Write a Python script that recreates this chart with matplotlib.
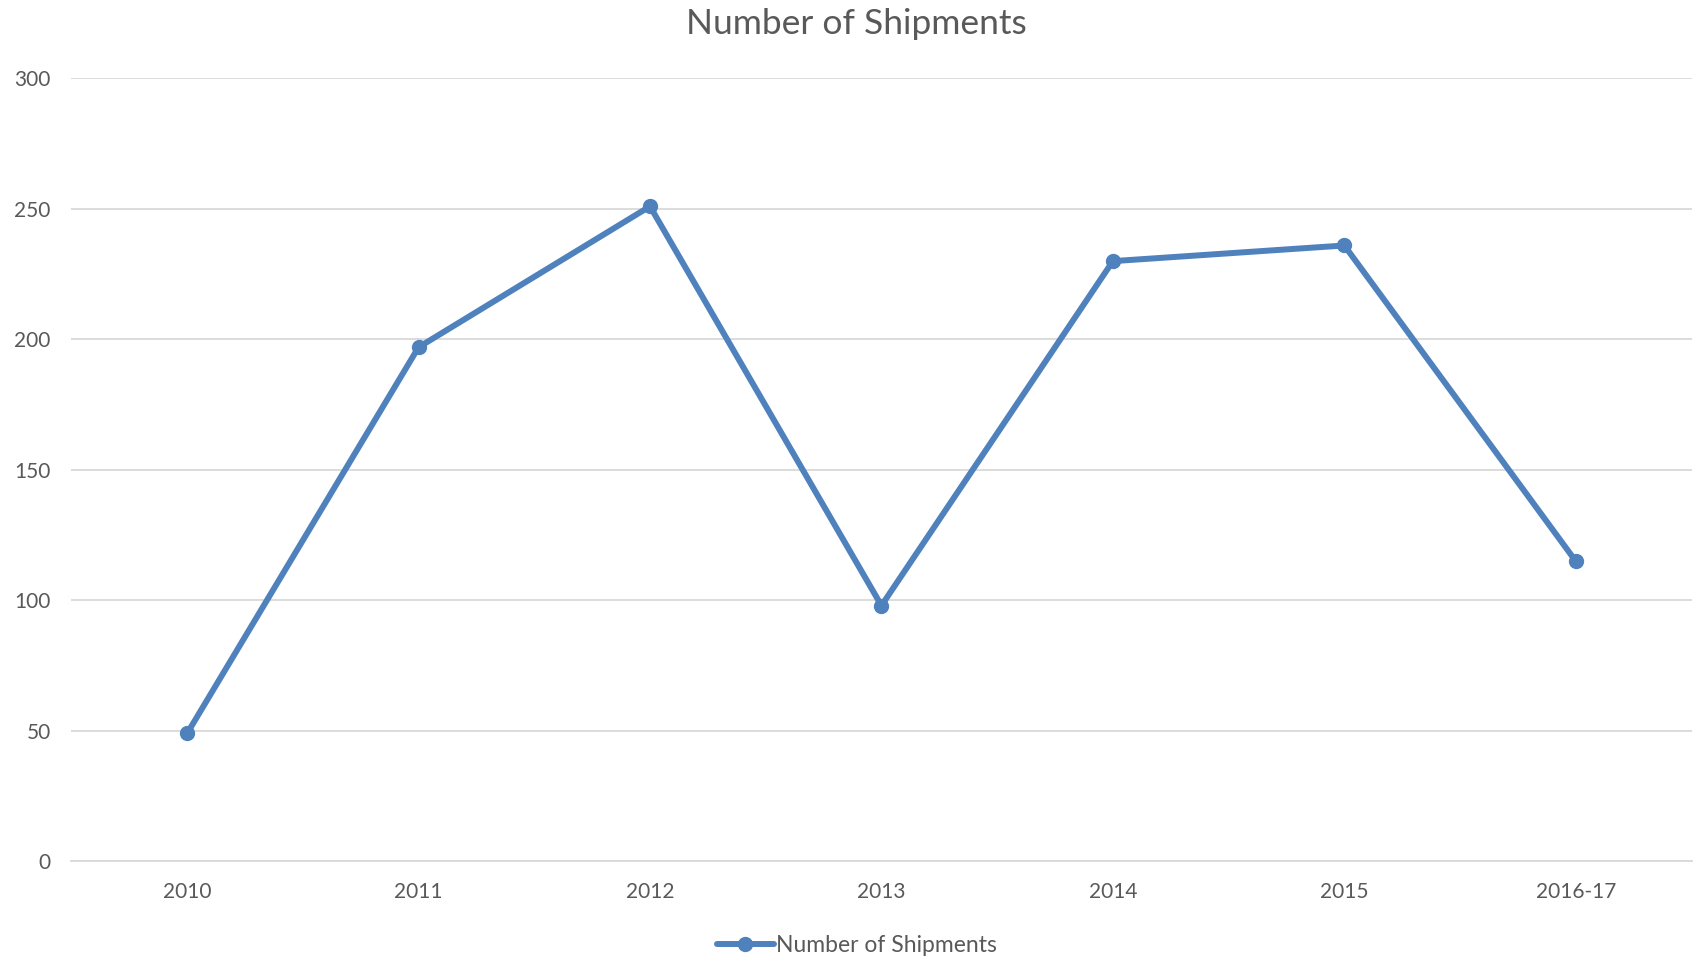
import matplotlib.pyplot as plt

years = ["2010", "2011", "2012", "2013", "2014", "2015", "2016-17"]
shipments = [49, 197, 251, 98, 230, 236, 115]
y_ticks = [0, 50, 100, 150, 200, 250, 300]

plt.rcParams["font.family"] = ["Lato", "DejaVu Sans"]

fig = plt.figure(figsize=(17, 9.57), dpi=100)
ax = fig.add_axes([0.042, 0.1, 0.953, 0.818])

x = list(range(len(years)))
ax.plot(x, shipments, color="#4F81BD", linewidth=4.3, marker="o",
        markersize=10, label="Number of Shipments", solid_capstyle="round")

ax.set_xlim(-0.5, len(years) - 0.5)
ax.set_ylim(0, 300)
ax.set_yticks(y_ticks)
ax.set_xticks(x)
ax.set_xticklabels(years)
ax.tick_params(axis="both", length=0, labelsize=15, colors="#595959")
ax.tick_params(axis="x", pad=15)
ax.tick_params(axis="y", pad=15)

ax.grid(axis="y", color="#D9D9D9", linewidth=1.3)
ax.set_axisbelow(True)
for s in ["top", "right", "left"]:
    ax.spines[s].set_visible(False)
ax.spines["bottom"].set_color("#D9D9D9")
ax.spines["bottom"].set_linewidth(1.3)

fig.text(0.504, 0.975, "Number of Shipments", ha="center", va="center",
         fontsize=25.5, color="#595959")

fig.legend(loc="center", bbox_to_anchor=(0.504, 0.012), frameon=False,
           fontsize=16.5, labelcolor="#595959", handlelength=2.5,
           handletextpad=0.1)

fig.savefig("out.png", dpi=100)
